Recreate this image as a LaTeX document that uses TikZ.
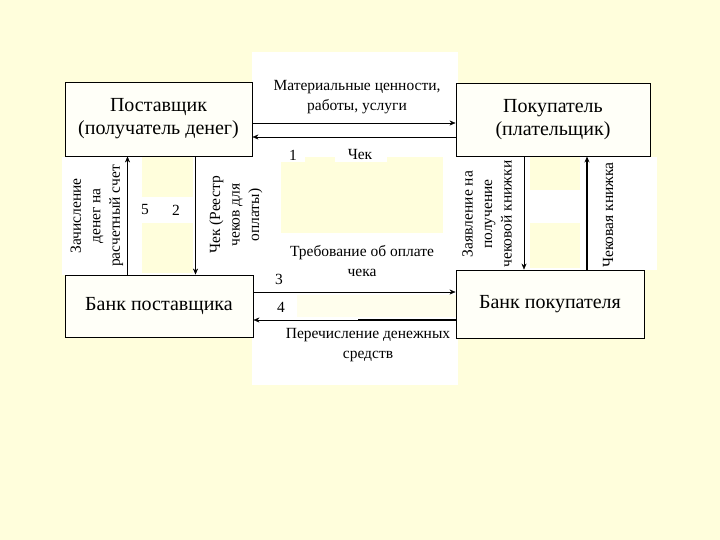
\documentclass[tikz,border=0pt]{standalone}
\usepackage{fontspec}
\setmainfont{Liberation Serif}
\usetikzlibrary{arrows.meta}
\definecolor{bgyellow}{RGB}{255,254,220}
\definecolor{boxfill}{RGB}{255,255,248}

\begin{document}
\begin{tikzpicture}[x=1pt,y=-1pt,>={Stealth[length=6pt,width=5pt]},
	party/.style={draw,fill=boxfill,line width=0.9pt,align=center,inner sep=0pt,font=\fontsize{20}{23}\selectfont},
	lbl/.style={align=center,inner sep=0pt,font=\fontsize{15.5}{19.5}\selectfont},
	vlbl/.style={lbl,rotate=90}]
		
		% Background and white text areas
		\fill[bgyellow] (0,0) rectangle (720,540);
		\useasboundingbox (0,0) rectangle (720,540);
		\fill[white] (252,52) rectangle (458,385);
		\fill[white] (62,157) rectangle (262,275);
		\fill[white] (458,157) rectangle (657,270);
		\fill[bgyellow] (281,162) rectangle (443,233);
		\fill[bgyellow] (305,157) rectangle (335,162);
		\fill[bgyellow] (387,157) rectangle (443,162);
		\fill[bgyellow] (142,157) rectangle (193,197);
		\fill[bgyellow] (142,223) rectangle (193,273);
		\fill[bgyellow] (530,157) rectangle (580,190);
		\fill[bgyellow] (530,223) rectangle (580,268);
		\fill[bgyellow!50!white] (297,295) rectangle (456,317);
		
		% Parties
		\node[party,minimum width=187pt,minimum height=74pt] (supplier) at (158.5,119) {Поставщик\\(получатель денег)};
		\node[party,minimum width=194pt,minimum height=73pt] (buyer) at (553,119.5) {Покупатель\\(плательщик)};
		\node[party,minimum width=188pt,minimum height=62pt] (sbank) at (159,306) {Банк поставщика};
		\node[party,minimum width=188pt,minimum height=68pt] (bbank) at (550,304) {Банк покупателя};
		
		% Goods and check
		\draw[->] ([yshift=-4pt]supplier.east) -- ([yshift=-4pt]supplier.east -| buyer.west);
		\draw[<-] ([yshift=-18pt]supplier.east) -- ([yshift=-18pt]supplier.east -| buyer.west);
		
		% Supplier and its bank
		\draw[->] ([xshift=-31.5pt]sbank.north) -- ([xshift=-31.5pt]sbank.north |- supplier.south);
		\draw[->] ([xshift=37pt]supplier.south) -- ([xshift=37pt]supplier.south |- sbank.north);
		
		% Buyer and its bank
		\draw[->] ([xshift=-29pt]buyer.south) -- ([xshift=-29pt]buyer.south |- bbank.north);
		\draw[->,line width=1.8pt] ([xshift=37pt]bbank.north) -- ([xshift=37pt]bbank.north |- buyer.south);
		
		% Between the banks
		\draw[->] ([yshift=14pt]sbank.east) -- ([yshift=14pt]sbank.east -| bbank.west);
		\coordinate (mid4) at (358,320);
		\draw[line width=1.8pt] ([yshift=-14pt]sbank.east -| bbank.west) -- (mid4);
		\draw[->] (mid4) -- ([yshift=-14pt]sbank.east);
		
		% Labels
		\node[lbl] (goods) at (357,97) {Материальные ценности,\\работы, услуги};
		\node[lbl] (n1) at (293,155) {1};
		\node[lbl] (check) at (360,155) {Чек};
		\node[lbl] (demand) at (362,261) {Требование об оплате\\чека};
		\node[lbl] (n3) at (279,279) {3};
		\node[lbl] (n4) at (281,307) {4};
		\node[lbl] (transfer) at (368,345) {Перечисление денежных\\средств};
		\node[vlbl] (credit) at (97,216) {Зачисление\\денег на\\расчетный счет};
		\node[lbl] (n5) at (145,210) {5};
		\node[lbl] (n2) at (176,210) {2};
		\node[vlbl] (register) at (236,215) {Чек (Реестр\\чеков для\\оплаты)};
		\node[vlbl] (request) at (487,214) {Заявление на\\получение\\чековой книжки};
		\node[vlbl] (chbook) at (608,215) {Чековая книжка};
		
	\end{tikzpicture}
\end{document}
